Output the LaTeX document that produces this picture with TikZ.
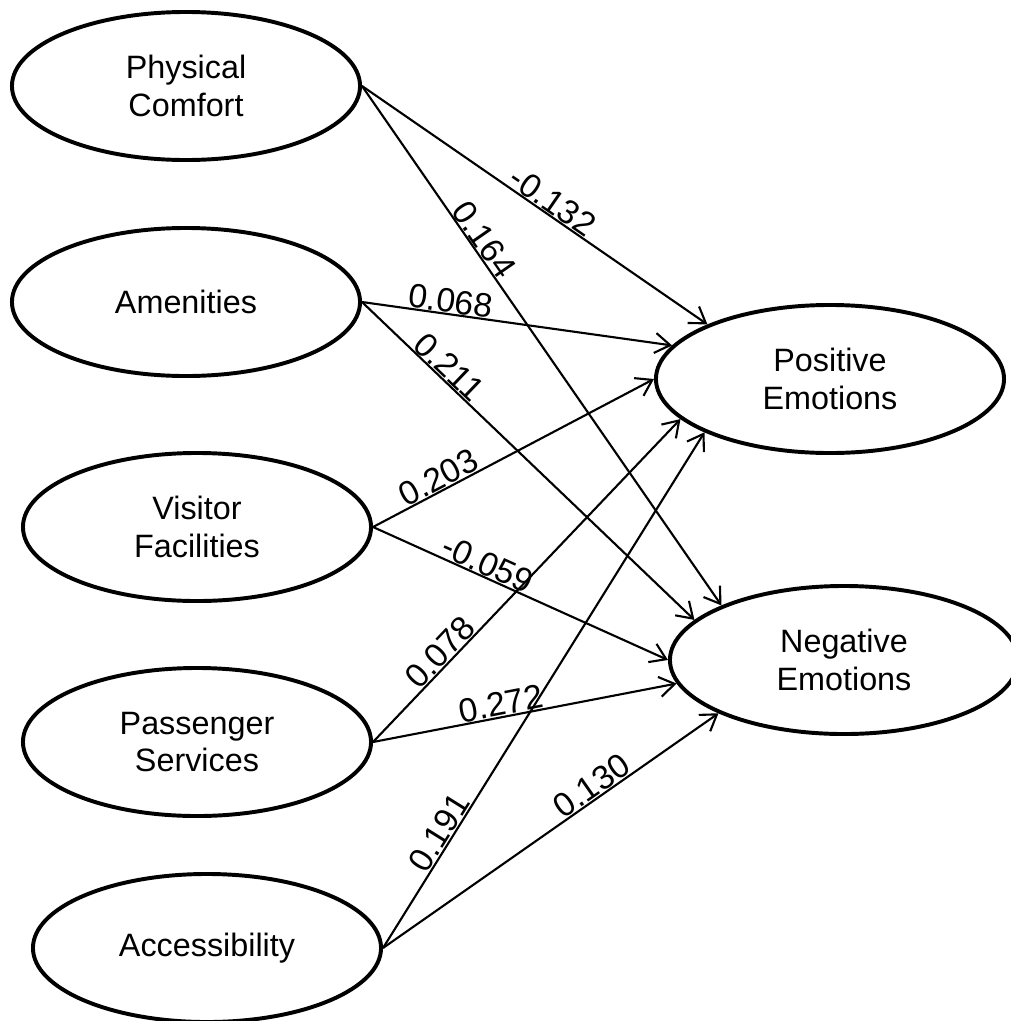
\documentclass[tikz,border=0pt]{standalone}
\usepackage{fontspec}
\setmainfont{Liberation Sans}
\usetikzlibrary{shapes.geometric, arrows.meta}

\begin{document}
\begin{tikzpicture}[
  x=0.025cm, y=-0.025cm,
  construct/.style={ellipse, draw, line width=2.8pt, minimum width=8.7cm, minimum height=3.7cm,
    align=center, font=\fontsize{23}{26.5}\selectfont},
  path/.style={line width=1.5pt, -{Straight Barb[length=0.38cm, width=0.5cm]}},
  coef/.style={sloped, above, inner sep=0.3pt, font=\fontsize{24}{28}\selectfont},
]
  \useasboundingbox (0,0) rectangle (1011,1021);

  \node[construct] (pc) at (186, 86)  {Physical\\Comfort};
  \node[construct] (am) at (186, 302) {Amenities};
  \node[construct] (vf) at (197, 527) {Visitor\\Facilities};
  \node[construct] (ps) at (197, 742) {Passenger\\Services};
  \node[construct] (ac) at (207, 948) {Accessibility};

  \node[construct] (pe) at (830, 379) {Positive\\Emotions};
  \node[construct] (ne) at (844, 660) {Negative\\Emotions};

  \foreach \src/\dst/\ang/\p/\val in {
    pc/pe/156/0.53/-0.132, pc/ne/156/0.31/0.164,
    am/pe/168/0.28/0.068,  am/ne/165/0.235/0.211,
    vf/pe/180/0.255/0.203, vf/ne/180/0.37/-0.059,
    ps/pe/195/0.25/0.078,  ps/ne/188/0.43/0.272,
    ac/pe/203/0.21/0.191,  ac/ne/203/0.645/0.130}
    \draw[path] (\src.east) -- (\dst.\ang) node[coef, pos=\p] {\val};
\end{tikzpicture}
\end{document}
